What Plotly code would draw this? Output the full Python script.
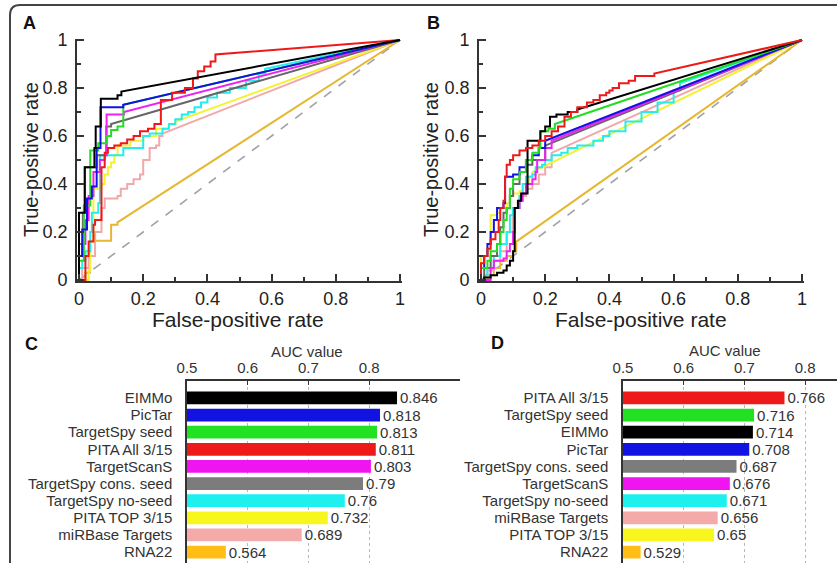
import plotly.graph_objects as go

W, H = 837, 563
FONT = "Liberation Sans, Arial, Helvetica, sans-serif"

# ---------------- data ----------------
bar_colors = {"EIMMo": "#000000", "PicTar": "#1212e2", "TargetSpy seed": "#22e022",
              "PITA All 3/15": "#ee1a1a", "TargetScanS": "#f014f0",
              "TargetSpy cons. seed": "#7c7c7c", "TargetSpy no-seed": "#1ef0f0",
              "PITA TOP 3/15": "#f7f71e", "miRBase Targets": "#f5aaaa", "RNA22": "#ffbe14"}
line_colors = {"EIMMo": "#000000", "PicTar": "#1212e2", "TargetSpy seed": "#22dd22",
               "PITA All 3/15": "#ee1a1a", "TargetScanS": "#ee22ee",
               "TargetSpy cons. seed": "#666666", "TargetSpy no-seed": "#22eeee",
               "PITA TOP 3/15": "#f2f230", "miRBase Targets": "#f2a8a8", "RNA22": "#e6b832"}

c_names = ["EIMMo", "PicTar", "TargetSpy seed", "PITA All 3/15", "TargetScanS",
           "TargetSpy cons. seed", "TargetSpy no-seed", "PITA TOP 3/15",
           "miRBase Targets", "RNA22"]
c_auc = [0.846, 0.818, 0.813, 0.811, 0.803, 0.79, 0.76, 0.732, 0.689, 0.564]

d_names = ["PITA All 3/15", "TargetSpy seed", "EIMMo", "PicTar", "TargetSpy cons. seed",
           "TargetScanS", "TargetSpy no-seed", "miRBase Targets", "PITA TOP 3/15", "RNA22"]
d_auc = [0.766, 0.716, 0.714, 0.708, 0.687, 0.676, 0.671, 0.656, 0.65, 0.529]

roc_ticks = [0, 0.2, 0.4, 0.6, 0.8, 1]
roc_ticktext = ["0", "0.2", "0.4", "0.6", "0.8", "1"]
auc_ticks = [0.5, 0.6, 0.7, 0.8]

# ROC step corners (FPR, TPR); curve continues straight to (1, 1)
A_EIMMO = [(0, 0), (0, 0.28), (0.018, 0.47), (0.048, 0.55), (0.052, 0.64), (0.068, 0.755),
           (0.12, 0.77), (0.132, 0.785)]
A_PICTAR = [(0, 0), (0, 0.1), (0.01, 0.21), (0.025, 0.34), (0.04, 0.39), (0.055, 0.55),
            (0.067, 0.72), (0.138, 0.73)]
A_TS_SEED = [(0, 0), (0, 0.08), (0.015, 0.31), (0.035, 0.54), (0.06, 0.57), (0.085, 0.6),
             (0.1, 0.625), (0.12, 0.64), (0.138, 0.73)]
A_PITA_ALL = [(0, 0), (0.02, 0.1), (0.03, 0.16), (0.045, 0.23), (0.05, 0.25), (0.07, 0.47),
              (0.08, 0.53), (0.09, 0.55), (0.11, 0.56), (0.13, 0.57), (0.15, 0.585),
              (0.17, 0.6), (0.19, 0.62), (0.215, 0.63), (0.235, 0.65), (0.255, 0.75),
              (0.29, 0.78), (0.33, 0.8), (0.355, 0.84), (0.37, 0.87), (0.39, 0.89),
              (0.41, 0.91), (0.425, 0.94)]
A_TSCANS = [(0, 0), (0, 0.1), (0.01, 0.15), (0.02, 0.25), (0.03, 0.35), (0.045, 0.45),
            (0.065, 0.5), (0.08, 0.52), (0.086, 0.69), (0.14, 0.7)]
A_TS_CONS = [(0, 0), (0, 0.15), (0.012, 0.28), (0.018, 0.47), (0.055, 0.52), (0.085, 0.64),
             (0.1, 0.65)]
A_TS_NOSEED = [(0, 0), (0, 0.05), (0.01, 0.08), (0.02, 0.12), (0.035, 0.2), (0.04, 0.28),
               (0.06, 0.32), (0.065, 0.52), (0.138, 0.55), (0.2, 0.6), (0.22, 0.61),
               (0.26, 0.63), (0.28, 0.65), (0.3, 0.67), (0.32, 0.69), (0.34, 0.7),
               (0.36, 0.72), (0.38, 0.74), (0.4, 0.76), (0.43, 0.78), (0.47, 0.8),
               (0.52, 0.83), (0.56, 0.86), (0.58, 0.88)]
A_PITA_TOP = [(0, 0), (0.03, 0.04), (0.035, 0.16), (0.045, 0.38), (0.07, 0.4), (0.08, 0.44),
              (0.09, 0.47), (0.1, 0.49), (0.11, 0.52), (0.12, 0.56), (0.16, 0.58),
              (0.2, 0.6), (0.24, 0.63), (0.28, 0.65), (0.3, 0.66)]
A_MIRBASE = [(0, 0), (0.01, 0.05), (0.03, 0.1), (0.05, 0.2), (0.07, 0.3), (0.08, 0.34),
             (0.12, 0.35), (0.13, 0.38), (0.15, 0.4), (0.17, 0.42), (0.19, 0.44),
             (0.2, 0.5), (0.22, 0.55), (0.24, 0.56), (0.25, 0.6), (0.26, 0.61)]
A_RNA22 = [(0, 0), (0.02, 0.03), (0.034, 0.164), (0.1, 0.23), (0.12, 0.24)]

B_EIMMO = [(0, 0), (0.01, 0.01), (0.03, 0.02), (0.05, 0.03), (0.07, 0.04), (0.08, 0.06),
           (0.09, 0.08), (0.1, 0.12), (0.105, 0.3), (0.115, 0.33), (0.125, 0.36),
           (0.145, 0.58), (0.185, 0.62), (0.2, 0.64), (0.215, 0.68), (0.235, 0.69),
           (0.27, 0.7), (0.3, 0.71)]
B_PICTAR = [(0, 0), (0, 0.05), (0.01, 0.1), (0.02, 0.15), (0.03, 0.2), (0.04, 0.25),
            (0.05, 0.3), (0.07, 0.32), (0.075, 0.43), (0.1, 0.44), (0.12, 0.47),
            (0.14, 0.5), (0.16, 0.52), (0.18, 0.55), (0.2, 0.58)]
B_TS_SEED = [(0, 0), (0, 0.05), (0.02, 0.08), (0.03, 0.12), (0.05, 0.15), (0.06, 0.2),
             (0.07, 0.25), (0.08, 0.3), (0.09, 0.38), (0.1, 0.42), (0.12, 0.45),
             (0.14, 0.5), (0.16, 0.53), (0.18, 0.55), (0.185, 0.62), (0.21, 0.63),
             (0.23, 0.65)]
B_PITA_ALL = [(0, 0), (0, 0.07), (0.01, 0.1), (0.02, 0.13), (0.03, 0.17), (0.045, 0.2),
              (0.055, 0.25), (0.06, 0.3), (0.07, 0.33), (0.075, 0.43), (0.08, 0.48),
              (0.09, 0.5), (0.1, 0.52), (0.12, 0.54), (0.14, 0.55), (0.16, 0.56),
              (0.18, 0.58), (0.2, 0.6), (0.22, 0.62), (0.24, 0.64), (0.26, 0.68),
              (0.28, 0.7), (0.3, 0.72), (0.33, 0.74), (0.35, 0.75), (0.37, 0.77),
              (0.39, 0.78), (0.4, 0.79), (0.41, 0.8), (0.43, 0.82), (0.46, 0.83),
              (0.48, 0.85), (0.54, 0.86)]
B_TSCANS = [(0, 0), (0.03, 0.05), (0.04, 0.08), (0.07, 0.09), (0.08, 0.12), (0.09, 0.15),
            (0.1, 0.2), (0.105, 0.3), (0.12, 0.33), (0.13, 0.36), (0.14, 0.4),
            (0.16, 0.42), (0.17, 0.45), (0.175, 0.5), (0.2, 0.55), (0.22, 0.58)]
B_TS_CONS = [(0, 0), (0.01, 0.05), (0.03, 0.1), (0.05, 0.15), (0.06, 0.22), (0.07, 0.28),
             (0.08, 0.3), (0.09, 0.35), (0.1, 0.4), (0.12, 0.45), (0.14, 0.48),
             (0.16, 0.5), (0.2, 0.56)]
B_TS_NOSEED = [(0, 0), (0.01, 0.02), (0.02, 0.05), (0.04, 0.1), (0.06, 0.15), (0.08, 0.2),
               (0.09, 0.27), (0.1, 0.3), (0.12, 0.35), (0.13, 0.4), (0.14, 0.43),
               (0.16, 0.44), (0.17, 0.47), (0.19, 0.48), (0.2, 0.5), (0.22, 0.52),
               (0.25, 0.53), (0.27, 0.55), (0.3, 0.56), (0.35, 0.58), (0.38, 0.6),
               (0.4, 0.62), (0.45, 0.66), (0.5, 0.7), (0.55, 0.74), (0.6, 0.79),
               (0.62, 0.82)]
B_PITA_TOP = [(0, 0), (0, 0.1), (0.02, 0.12), (0.03, 0.27), (0.05, 0.28), (0.06, 0.3),
              (0.08, 0.32), (0.09, 0.35), (0.1, 0.36), (0.12, 0.37), (0.13, 0.4),
              (0.15, 0.43), (0.16, 0.45)]
B_MIRBASE = [(0, 0), (0.02, 0.04), (0.04, 0.08), (0.06, 0.12), (0.08, 0.2), (0.1, 0.3),
             (0.12, 0.35), (0.14, 0.38), (0.16, 0.4), (0.18, 0.44), (0.2, 0.47),
             (0.22, 0.53)]
B_RNA22 = [(0, 0), (0.02, 0.02), (0.04, 0.05), (0.06, 0.08), (0.08, 0.1), (0.1, 0.12),
           (0.11, 0.16)]

roc_a = [("RNA22", A_RNA22), ("miRBase Targets", A_MIRBASE), ("PITA TOP 3/15", A_PITA_TOP),
         ("TargetSpy no-seed", A_TS_NOSEED), ("TargetSpy cons. seed", A_TS_CONS),
         ("TargetScanS", A_TSCANS), ("TargetSpy seed", A_TS_SEED), ("PicTar", A_PICTAR),
         ("PITA All 3/15", A_PITA_ALL), ("EIMMo", A_EIMMO)]
roc_b = [("RNA22", B_RNA22), ("miRBase Targets", B_MIRBASE), ("PITA TOP 3/15", B_PITA_TOP),
         ("TargetSpy no-seed", B_TS_NOSEED), ("TargetSpy cons. seed", B_TS_CONS),
         ("TargetScanS", B_TSCANS), ("PicTar", B_PICTAR), ("TargetSpy seed", B_TS_SEED),
         ("EIMMo", B_EIMMO), ("PITA All 3/15", B_PITA_ALL)]


# ---------------- helpers ----------------
def px(x):
    return x / W


def py(y):
    return 1 - y / H


def step_path(pts):
    xs, ys = [pts[0][0]], [pts[0][1]]
    for (x2, y2) in pts[1:]:
        xs += [x2, x2]
        ys += [ys[-1], y2]
    xs.append(1)
    ys.append(1)
    return xs, ys


fig = go.Figure()

for panel, curves in (("A", roc_a), ("B", roc_b)):
    xa, ya = ("x", "y") if panel == "A" else ("x2", "y2")
    fig.add_trace(go.Scatter(x=[0, 1], y=[0, 1], mode="lines", xaxis=xa, yaxis=ya,
                             line=dict(color="#a0a0a8", width=1.6, dash="dash"),
                             showlegend=False, hoverinfo="skip"))
    for name, pts in curves:
        xs, ys = step_path(pts)
        fig.add_trace(go.Scatter(x=xs, y=ys, mode="lines", xaxis=xa, yaxis=ya, name=name,
                                 line=dict(color=line_colors[name], width=2),
                                 showlegend=False))

for names, vals, xa, ya in ((c_names, c_auc, "x3", "y3"), (d_names, d_auc, "x4", "y4")):
    fig.add_trace(go.Bar(x=vals, y=names, orientation="h", xaxis=xa, yaxis=ya,
                         marker=dict(color=[bar_colors[n] for n in names], line=dict(width=0)),
                         width=0.74, text=[str(v) for v in vals], textposition="outside",
                         constraintext="none", cliponaxis=False,
                         textfont=dict(family=FONT, size=15, color="#333333"),
                         showlegend=False))

# ---------------- axes ----------------
PAD = 0.006
ROC_TICK_FONT = dict(family=FONT, size=18, color="#222")


def roc_xaxis(x0, x1):
    span = x1 - x0
    return dict(domain=[px(x0 - PAD * span), px(x1 + PAD * span)], range=[-PAD, 1 + PAD],
                automargin=False,
                tickvals=roc_ticks, ticktext=roc_ticktext, ticks="inside", ticklen=7,
                tickwidth=1.5, tickcolor="#333", showline=True, linecolor="#333",
                linewidth=2, showgrid=False, zeroline=False,
                minor=dict(dtick=0.1, ticks="inside", ticklen=4, tickcolor="#333"),
                tickfont=ROC_TICK_FONT, ticklabelstandoff=0)


def roc_yaxis(anchor):
    span = 280 - 40
    return dict(domain=[py(280 + PAD * span), py(40 - PAD * span)], range=[-PAD, 1 + PAD],
                anchor=anchor, automargin=False,
                tickvals=roc_ticks, ticktext=roc_ticktext, ticks="inside",
                ticklen=7, tickwidth=1.5, tickcolor="#333", showline=True,
                linecolor="#333", linewidth=2, showgrid=False, zeroline=False,
                minor=dict(dtick=0.1, ticks="inside", ticklen=4, tickcolor="#333"),
                tickfont=ROC_TICK_FONT, ticklabelstandoff=4)


def bar_xaxis(x0, x1, anchor):
    rmax = 0.5 + (x1 - x0) / 607.0
    return dict(domain=[px(x0), min(px(x1), 1.0)], range=[0.5, rmax], anchor=anchor,
                automargin=False,
                side="top", tickvals=auc_ticks, ticks="inside", ticklen=4,
                tickcolor="#333", showline=True, linecolor="#333", linewidth=1.5,
                showgrid=True, gridcolor="#b8b8b8", griddash="dot", gridwidth=1,
                zeroline=False, tickfont=dict(family=FONT, size=15, color="#333"),
                ticklabelstandoff=0)


def bar_yaxis(names, anchor):
    return dict(domain=[py(563), py(381)], type="category", categoryorder="array",
                categoryarray=names, tickmode="array", tickvals=names, ticktext=names,
                range=[9.64, -0.99], anchor=anchor, automargin=False, showline=True,
                linecolor="#333", linewidth=1.5, ticks="", showgrid=False,
                tickfont=dict(family=FONT, size=15, color="#333"), ticklabelstandoff=10)


fig.update_layout(
    width=W, height=H, margin=dict(l=0, r=0, t=0, b=0, autoexpand=False),
    paper_bgcolor="white", plot_bgcolor="white", showlegend=False, bargap=0.26,
    font=dict(family=FONT, color="#222"),
    xaxis=dict(roc_xaxis(79, 400), anchor="y"),
    yaxis=roc_yaxis("x"),
    xaxis2=dict(roc_xaxis(481, 802), anchor="y2"),
    yaxis2=roc_yaxis("x2"),
    xaxis3=bar_xaxis(187, 460, "y3"),
    yaxis3=bar_yaxis(c_names, "x3"),
    xaxis4=bar_xaxis(623, 837, "y4"),
    yaxis4=bar_yaxis(d_names, "x4"),
)

# ---------------- annotations ----------------
ann = []


def text(t, x, y, size, bold=False, angle=0, color="#222"):
    ann.append(dict(text=f"<b>{t}</b>" if bold else t, x=px(x), y=py(y), xref="paper",
                    yref="paper", showarrow=False, xanchor="center", yanchor="middle",
                    textangle=angle, font=dict(family=FONT, size=size, color=color)))


text("A", 29, 23, 18, bold=True, color="#111")
text("B", 433, 23, 18, bold=True, color="#111")
text("C", 32, 344, 18, bold=True, color="#111")
text("D", 497, 343, 18, bold=True, color="#111")
text("True-positive rate", 31, 160, 20, angle=-90)
text("True-positive rate", 431, 160, 20, angle=-90)
text("False-positive rate", 238, 319, 21)
text("False-positive rate", 641, 319, 21)
text("AUC value", 307, 351, 15, color="#333")
text("AUC value", 725, 350, 15, color="#333")
fig.update_layout(annotations=ann)

# outer frame with rounded top-left corner
frame = (f"M {px(10)},{py(575)} L {px(10)},{py(15)} Q {px(10)},{py(5)} {px(20)},{py(5)} "
         f"L {px(850)},{py(5)}")
fig.add_shape(type="path", path=frame, xref="paper", yref="paper",
              line=dict(color="#444", width=2), layer="above")

fig.write_html("out.html")
